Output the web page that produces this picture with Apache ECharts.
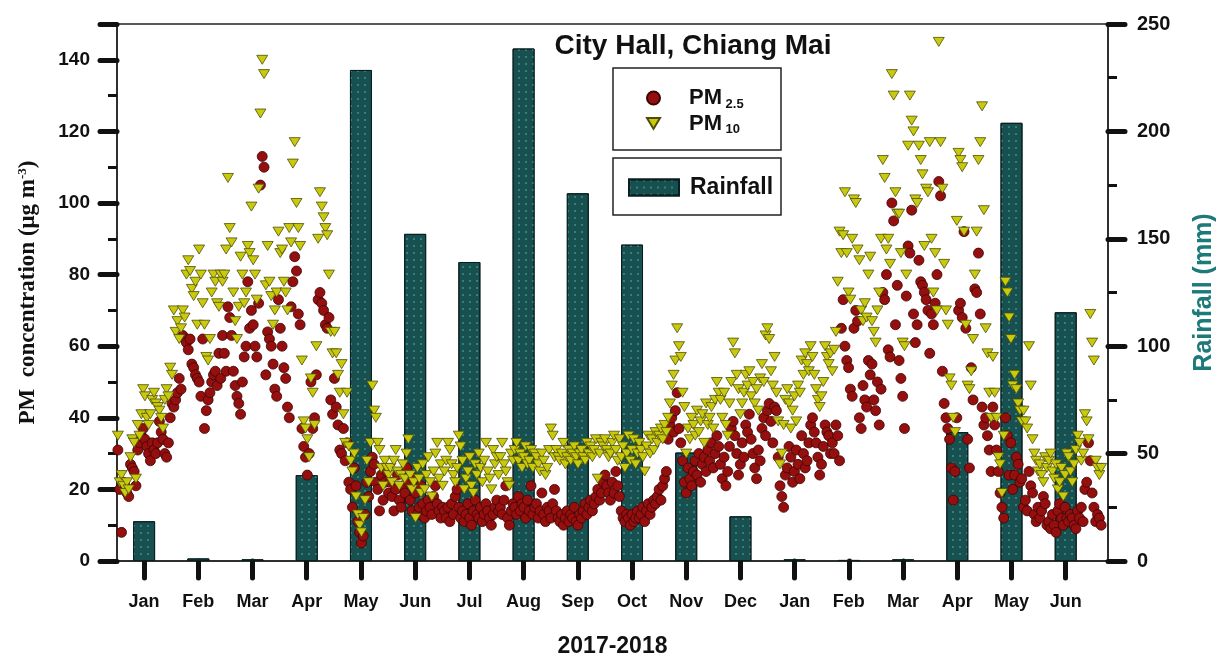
<!DOCTYPE html>
<html>
<head>
<meta charset="utf-8">
<script src="https://cdn.jsdelivr.net/npm/echarts@6/dist/echarts.min.js"></script>
<style>html,body{margin:0;padding:0;background:#fff}#c{width:1216px;height:655px}</style>
</head>
<body>
<div id="c"></div>
<script>
// ---- categories / tick labels ----
const months = ['Jan','Feb','Mar','Apr','May','Jun','Jul','Aug','Sep','Oct','Nov','Dec','Jan','Feb','Mar','Apr','May','Jun'];
// ---- monthly rainfall (mm) ----
const rainfall = [18.5, 1.2, 0.8, 40, 228.6, 152.3, 139.2, 238.6, 171.2, 147.3, 50.5, 20.8, 0.8, 0.5, 0.8, 60, 204, 115.8];
// ---- daily PM2.5 (µg m-3), Jan 2017 - Jun 2018 ----
const pm25Jan17 = [31,20,8,22,21,19,18,27,26,25,21,31,33,35,37,34,32,30,28,33,31,30,33,39,36,34,30,29,33,40,44];
const pm25Feb17 = [43,45,47,51,48,63,62,61,59,62,55,54,52,51,50,46,62,37,42,45,47,50,52,53,49,58,51,63];
const pm25Mar17 = [58,53,71,68,63,53,49,46,44,41,50,57,60,78,65,70,66,60,57,72,105,113,110,52,64,62,60,55,48,46,73];
const pm25Apr17 = [65,60,54,51,43,40,71,78,85,81,69,66,37,32,29,24,30,50,37,40,52,73,75,72,70,66,65,68,45,41];
const pm25May17 = [51,43,38,31,30,37,28,33,22,20,15,26,21,11,8,5,7,13,22,18,25,29,27,22,20,14,24,17,22,25,19];
const pm25Jun17 = [22,18,14,20,24,17,15,21,19,26,22,17,14,23,19,13,15,21,16,12,14,17,15,13,18,21,16,14,12,15];
const pm25Jul17 = [14,12,15,11,16,13,18,20,15,12,14,11,13,16,12,10,14,17,13,12,15,11,13,16,14,12,10,13,15,17,14];
const pm25Aug17 = [15,13,17,21,12,10,14,16,15,13,18,14,16,15,12,17,14,21,13,15,16,12,14,19,13,11,15,14,12,16,20];
const pm25Sep17 = [14,12,11,13,10,12,14,11,13,12,15,11,10,13,12,14,16,13,15,17,14,16,18,20,17,19,22,24,21,19];
const pm25Oct17 = [17,22,19,25,21,18,14,12,11,13,12,10,13,11,12,14,12,13,15,11,14,16,13,15,17,16,18,20,17,21,23];
const pm25Nov17 = [25,34,38,40,36,42,47,37,33,28,22,19,26,23,21,25,28,24,30,22,27,29,25,31,28,33,26,30,35,32];
const pm25Dec17 = [27,23,29,21,25,32,37,39,35,30,24,27,33,29,38,36,41,34,30,26,23,31,28,37,40,35,42,44,39,33,43];
const pm25Jan18 = [42,29,21,18,15,24,26,32,29,22,25,31,27,23,35,30,26,28,33,38,40,36,33,29,24,27,32,38,36,35,30];
const pm25Feb18 = [33,30,38,35,28,65,73,60,56,54,48,46,65,70,67,40,37,49,45,43,56,52,55,45,42,50,38,48];
const pm25Mar18 = [75,73,80,59,57,100,95,66,77,56,51,46,37,74,88,86,98,69,61,66,84,78,77,75,73,70,58,69,66,72,80];
const pm25Apr18 = [106,102,53,44,40,37,34,26,17,25,40,70,72,68,92,65,34,26,54,45,76,75,86,69,43,38,40,35,31,25];
const pm25May18 = [43,38,31,25,19,15,12,40,35,24,33,20,24,29,27,22,23,15,17,14,25,21,19,13,11,15,12,14,18,16,10];
const pm25Jun18 = [11,9,13,10,8,14,16,12,10,15,12,11,13,12,10,9,14,12,15,11,20,22,33,28,19,15,11,13,12,10];
// ---- daily PM10 (µg m-3) ----
const pm10Jan17 = [35,22,24,21,19,22,20,29,34,33,23,38,35,41,48,46,40,38,41,45,47,44,43,42,40,37,45,48,46,54,52];
const pm10Feb17 = [70,64,67,62,65,70,68,80,84,81,76,74,78,66,87,80,72,66,57,56,62,75,80,78,72,71,80,78];
const pm10Mar17 = [80,87,107,93,89,75,67,62,71,85,80,72,75,88,86,99,84,80,73,104,125,140,136,77,88,78,74,66,70,75,92];
const pm10Apr17 = [86,87,78,75,70,93,89,111,117,100,93,88,56,39,37,34,29,51,47,38,60,90,103,99,96,93,91,80,64,58];
const pm10May17 = [64,58,52,47,55,41,33,47,32,28,25,30,18,13,10,8,12,17,28,22,33,49,42,40,33,31,26,21,28,26,24];
const pm10Jun17 = [26,22,28,31,25,21,24,27,23,30,34,24,20,22,12,26,23,19,27,20,24,29,22,18,25,30,33,23,27,21];
const pm10Jul17 = [25,28,33,31,27,24,22,26,35,32,28,20,23,25,29,21,19,27,24,30,26,22,28,33,25,23,20,31,27,29,24];
const pm10Aug17 = [29,33,27,25,22,21,30,28,31,33,28,30,26,29,32,27,28,31,26,30,29,27,25,30,28,24,26,31,37,35,29];
const pm10Sep17 = [31,29,28,30,33,27,29,31,28,30,32,29,27,30,31,29,28,33,30,32,29,31,34,23,30,33,32,34,31,29];
const pm10Oct17 = [30,33,35,31,28,34,29,32,26,30,35,28,31,34,27,30,33,31,29,25,32,35,30,34,31,36,33,35,37,34,38];
const pm10Nov17 = [36,40,44,49,52,56,65,60,57,47,43,30,37,34,40,38,35,42,36,39,41,33,44,38,40,43,37,45,50,47];
const pm10Dec17 = [45,40,47,38,35,44,50,61,58,52,48,41,44,47,52,49,53,46,50,44,48,42,51,55,50,63,65,62,53,49,57];
const pm10Jan18 = [47,39,27,30,38,45,48,44,37,42,46,39,49,47,56,52,58,55,53,60,57,52,48,45,43,46,50,60,57,55,58];
const pm10Feb18 = [53,59,64,78,92,86,91,103,86,75,73,90,101,100,87,84,70,67,72,68,80,85,67,64,61,70,75,90];
const pm10Mar18 = [112,107,87,90,83,136,130,103,97,97,86,61,60,80,116,130,123,120,101,100,116,112,108,88,104,103,117,90,75,86,70];
const pm10Apr18 = [145,117,104,83,70,66,51,49,40,36,95,114,112,110,92,66,49,48,53,62,80,92,112,117,127,98,65,58,47,40];
const pm10May18 = [57,47,40,29,27,19,35,78,75,68,62,49,52,48,44,42,39,42,39,37,60,49,34,30,28,25,27,24,22,29,26];
const pm10Jun18 = [28,30,25,23,27,20,22,26,18,24,30,29,25,22,27,31,35,33,28,30,41,39,34,69,61,56,28,26,24,26];

const pm25 = [].concat(pm25Jan17,pm25Feb17,pm25Mar17,pm25Apr17,pm25May17,pm25Jun17,pm25Jul17,pm25Aug17,pm25Sep17,pm25Oct17,pm25Nov17,pm25Dec17,pm25Jan18,pm25Feb18,pm25Mar18,pm25Apr18,pm25May18,pm25Jun18);
const pm10 = [].concat(pm10Jan17,pm10Feb17,pm10Mar17,pm10Apr17,pm10May17,pm10Jun17,pm10Jul17,pm10Aug17,pm10Sep17,pm10Oct17,pm10Nov17,pm10Dec17,pm10Jan18,pm10Feb18,pm10Mar18,pm10Apr18,pm10May18,pm10Jun18);

// x axis in "month" units: month i is centred on i + 0.5
const monthCenters = months.map((m, i) => i + 0.5);
const nDays = pm25.length;
const SPAN = 18.17;
const dayX = k => (k + 0.5) * SPAN / nDays;

const SANS = '"Liberation Sans", Arial, Helvetica, sans-serif';
const SERIF = '"Liberation Serif", "Times New Roman", serif';

const chart = echarts.init(document.getElementById('c'), null, {renderer: 'canvas'});
chart.setOption({
  animation: false,
  backgroundColor: '#fff',
  grid: {left: 117, right: 108, top: 24, bottom: 94, containLabel: false, outerBoundsMode: 'none',
    show: true, borderColor: '#222', borderWidth: 1.5},
  graphic: [
    {type: 'text', style: {text: 'City Hall, Chiang Mai', x: 693, y: 46, align: 'center', verticalAlign: 'middle', font: 'bold 28px ' + SANS, fill: '#111'}, z: 10},
    {type: 'rect', shape: {x: 613, y: 68, width: 168, height: 82}, style: {fill: 'rgba(0,0,0,0)', stroke: '#222', lineWidth: 1.5}, z: 10},
    {type: 'rect', shape: {x: 613, y: 158, width: 168, height: 57}, style: {fill: 'rgba(0,0,0,0)', stroke: '#222', lineWidth: 1.5}, z: 10}
  ],
  legend: [
    {
      selectedMode: false, orient: 'vertical', left: 646, top: 87, padding: 0, itemWidth: 13, itemHeight: 13, itemGap: 2,
      data: [{name: 'PM2.5', icon: 'circle'}, {name: 'PM10', icon: 'path://M0,0L12,0L6,10Z'}],
      formatter: n => n === 'PM2.5' ? '{a|PM}{b| 2.5}' : '{a|PM}{b| 10}',
      textStyle: {rich: {
        a: {fontFamily: SANS, fontWeight: 'bold', fontSize: 22, color: '#111', lineHeight: 25, padding: [0, 0, 0, 24]},
        b: {fontFamily: SANS, fontWeight: 'bold', fontSize: 13, color: '#111', lineHeight: 25, verticalAlign: 'bottom'}
      }}
    },
    {
      selectedMode: false, left: 628, top: 176, padding: 0, itemWidth: 50, itemHeight: 16,
      data: [{name: 'Rainfall', icon: 'rect'}],
      formatter: '{a|Rainfall}',
      textStyle: {rich: {a: {fontFamily: SANS, fontWeight: 'bold', fontSize: 23, color: '#111', padding: [0, 0, 0, 6]}}}
    }
  ],
  xAxis: {
    type: 'value', min: 0, max: 18.28,
    name: '2017-2018', nameLocation: 'middle', nameGap: 74,
    nameTextStyle: {fontFamily: SANS, fontWeight: 'bold', fontSize: 23, color: '#111'},
    axisLine: {show: true, lineStyle: {color: '#222', width: 1.5}},
    axisTick: {show: true, customValues: monthCenters, length: 17, lineStyle: {color: '#111', width: 5, cap: 'round'}},
    axisLabel: {customValues: monthCenters, formatter: v => months[Math.round(v - 0.5)] || '', margin: 32,
      fontFamily: SANS, fontWeight: 'bold', fontSize: 18, color: '#111'},
    splitLine: {show: false}
  },
  yAxis: [
    {
      type: 'value', min: 0, max: 150, interval: 20, position: 'left',
      name: '{a|PM  concentration (μg m}{s|-3}{a|)}', nameLocation: 'middle', nameGap: 76, nameRotate: 90,
      nameTextStyle: {rich: {
        a: {fontFamily: SERIF, fontWeight: 'bold', fontSize: 23, color: '#111', lineHeight: 26},
        s: {fontFamily: SERIF, fontWeight: 'bold', fontSize: 13, color: '#111', lineHeight: 26, padding: [0, 0, 10, 0]}
      }},
      axisLine: {show: true, lineStyle: {color: '#222', width: 1.5}},
      axisTick: {show: true, inside: false, length: 17, lineStyle: {color: '#111', width: 5, cap: 'round'}},
      minorTick: {show: true, splitNumber: 2, length: 9, lineStyle: {color: '#111', width: 3}},
      axisLabel: {showMaxLabel: false, margin: 27, fontFamily: SANS, fontWeight: 'bold', fontSize: 19, color: '#111'},
      splitLine: {show: false}
    },
    {
      type: 'value', min: 0, max: 250, interval: 50, position: 'right',
      name: 'Rainfall (mm)', nameLocation: 'middle', nameGap: 84, nameRotate: 90,
      nameTextStyle: {fontFamily: SANS, fontWeight: 'bold', fontSize: 25, color: '#1d7a7a'},
      axisLine: {show: true, lineStyle: {color: '#222', width: 1.5}},
      axisTick: {show: true, inside: false, length: 17, lineStyle: {color: '#111', width: 5, cap: 'round'}},
      minorTick: {show: true, splitNumber: 2, length: 9, lineStyle: {color: '#111', width: 3}},
      axisLabel: {margin: 29, fontFamily: SANS, fontWeight: 'bold', fontSize: 20, color: '#111'},
      splitLine: {show: false}
    }
  ],
  series: [
    {
      name: 'Rainfall', type: 'bar', xAxisIndex: 0, yAxisIndex: 1, barWidth: 22, z: 1,
      data: monthCenters.map((x, i) => [x, rainfall[i]]),
      itemStyle: {color: '#17504f', borderColor: '#0b1f20', borderWidth: 1,
        decal: {symbol: 'rect', symbolSize: 1, color: 'rgba(70,170,170,0.55)', dashArrayX: [2, 5], dashArrayY: [2, 5]}}
    },
    {
      name: 'PM2.5', type: 'scatter', xAxisIndex: 0, yAxisIndex: 0, z: 3,
      symbol: 'circle', symbolSize: 10,
      data: pm25.map((v, k) => [dayX(k), v]),
      itemStyle: {color: '#960f0f', borderColor: '#3a0404', borderWidth: 0.8, opacity: 1}
    },
    {
      name: 'PM10', type: 'scatter', xAxisIndex: 0, yAxisIndex: 0, z: 3,
      symbol: 'triangle', symbolRotate: 180, symbolSize: [11, 9],
      data: pm10.map((v, k) => [dayX(k), v]),
      itemStyle: {color: '#c9c90e', borderColor: '#4d4d08', borderWidth: 0.8, opacity: 1}
    }
  ]
});
</script>
</body>
</html>
